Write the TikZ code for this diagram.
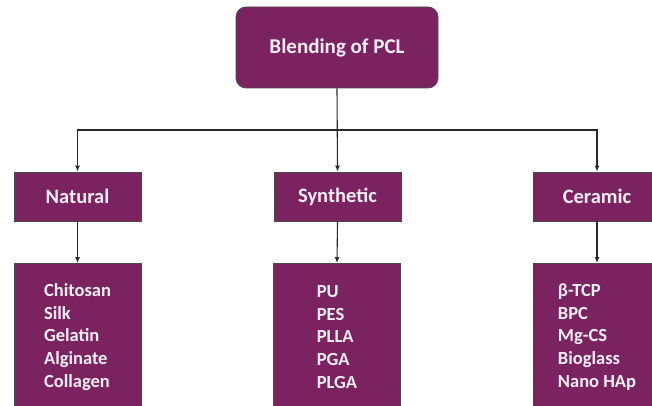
\documentclass[tikz,border=0pt]{standalone}
\usepackage{fontspec}
\setmainfont{Carlito}
\usetikzlibrary{arrows.meta}
\definecolor{plum}{HTML}{7B2361}
\definecolor{edge}{HTML}{4A4A4A}
\definecolor{wire}{HTML}{2A2A2A}
\definecolor{pale}{HTML}{F7EEF4}
\tikzset{
  pbox/.style={draw=edge, line width=0.8pt, fill=plum, text=pale, font=\bfseries, inner sep=0pt},
  topbox/.style={pbox, rounded corners=10pt, minimum width=202pt, minimum height=81pt, font=\fontsize{21}{25}\selectfont\bfseries},
  catbox/.style={pbox, minimum width=127pt, minimum height=49pt, font=\fontsize{20.5}{24}\selectfont\bfseries},
  listbox/.style={pbox, minimum width=127pt, minimum height=147pt, anchor=north, align=left, font=\fontsize{18.5}{22.7}\selectfont\bfseries},
  wirearrow/.style={draw=wire, line width=1.1pt, -{Latex[length=6pt,width=5pt]}}
}
\begin{document}
\begin{tikzpicture}[x=1pt,y=-1pt]
\useasboundingbox (0,0) rectangle (652,406);
\clip (0,0) rectangle (652,406);
\node[topbox] (top) at (337,47.5) {Blending of PCL};
\node[catbox] (nat) at (77.5,196.5) {Natural};
\node[catbox] (syn) at (337.5,196.5) {Synthetic};
\node[catbox] (cer) at (597,196.5) {Ceramic};
\node[listbox] (natl) at (77.5,263) {Chitosan\\Silk\\Gelatin\\Alginate\\Collagen};
\node[listbox] (synl) at (337,263) {PU\\PES\\PLLA\\PGA\\PLGA};
\node[listbox] (cerl) at (597,263) {β-TCP\\BPC\\Mg-CS\\Bioglass\\Nano HAp};
\coordinate (hub) at (337,130);
\draw[wirearrow] (top.south) -- (syn.north);
\draw[wirearrow] (hub) -| (nat.north);
\draw[wirearrow] (hub) -| (cer.north);
\draw[wirearrow] (nat.south) -- (natl.north);
\draw[wirearrow] (syn.south) -- (synl.north);
\draw[wirearrow] (cer.south) -- (cerl.north);
\end{tikzpicture}
\end{document}
